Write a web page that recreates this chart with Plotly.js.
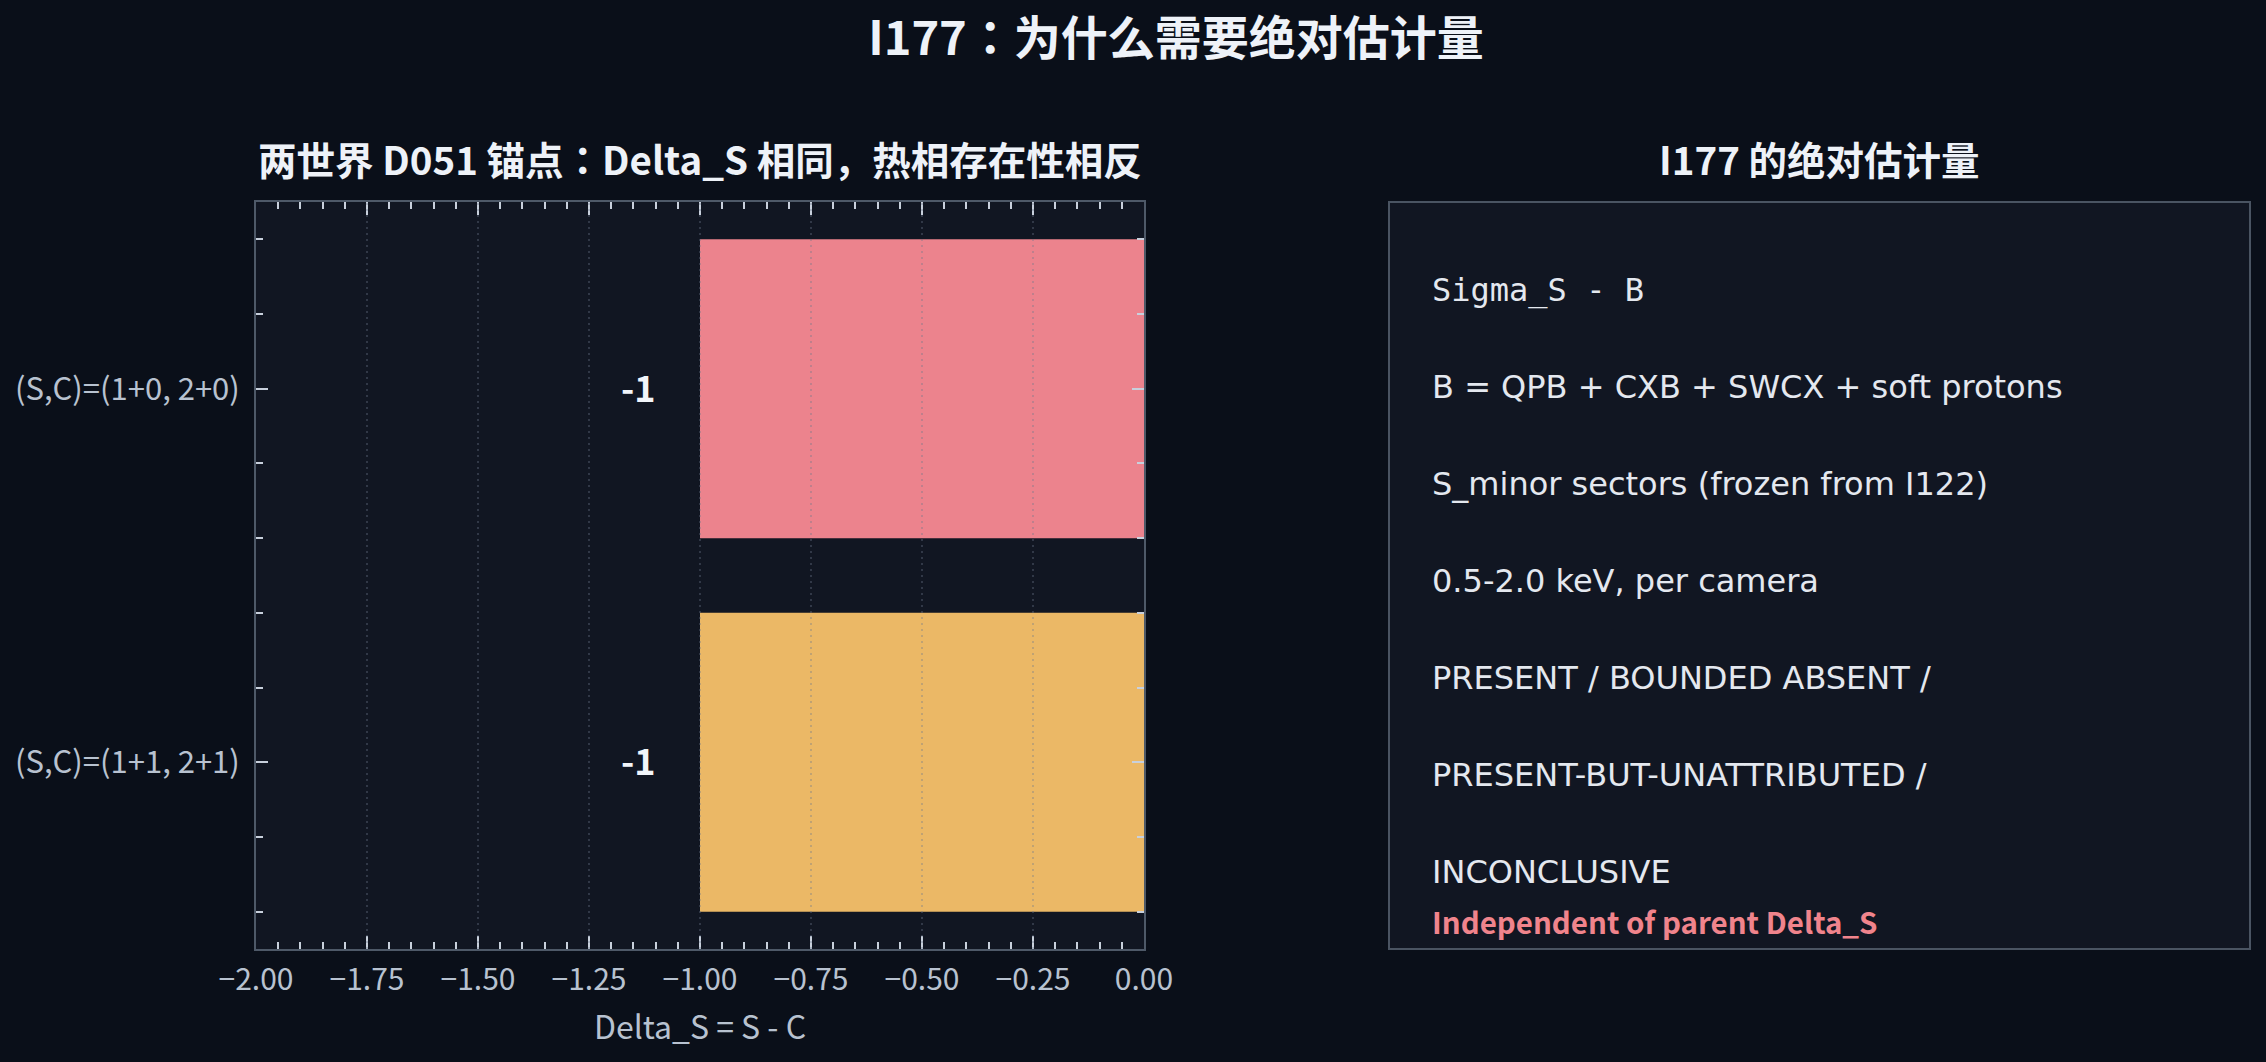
<!DOCTYPE html>
<html>
<head>
<meta charset="utf-8">
<script src="https://cdn.plot.ly/plotly-3.0.1.min.js"></script>
<style>
html,body{margin:0;padding:0;background:#0a0f19;}
#chart{width:2266px;height:1062px;}
</style>
</head>
<body>
<div id="chart"></div>
<script>
// ---- data ----
const categories = ["(S,C)=(1+0, 2+0)", "(S,C)=(1+1, 2+1)"];
const deltaS = [-1, -1];
const barColors = ["#ec838d", "#ebb866"];
const barLabels = ["-1", "-1"];
const mainTitle = "I177：为什么需要绝对估计量";
const leftTitle = "两世界 D051 锚点：Delta_S 相同，热相存在性相反";
const rightTitle = "I177 的绝对估计量";
const xAxisTitle = "Delta_S = S - C";
const monoLine = "Sigma_S - B";
const textLines = [
  "B = QPB + CXB + SWCX + soft protons",
  "S_minor sectors (frozen from I122)",
  "0.5-2.0 keV, per camera",
  "PRESENT / BOUNDED ABSENT /",
  "PRESENT-BUT-UNATTRIBUTED /",
  "INCONCLUSIVE"
];
const noteLine = "Independent of parent Delta_S";
const gridVals = [-1.75, -1.5, -1.25, -1.0, -0.75, -0.5, -0.25];

// ---- layout helpers ----
const W = 2266, H = 1062;
const px = x => x / W;
const py = y => (H - y) / H;
const cjk = '"Noto Sans CJK JP", "Noto Sans CJK SC", "Noto Sans", sans-serif';

const yIdx = categories.map((c, i) => i);

const trace = {
  type: 'bar',
  orientation: 'h',
  x: deltaS,
  y: yIdx,
  width: 0.8,
  marker: {color: barColors, line: {width: 0}},
  hoverinfo: 'skip',
  showlegend: false
};

const annotations = [];
// bar value labels
deltaS.forEach((v, i) => {
  annotations.push({
    x: v, y: yIdx[i], xref: 'x', yref: 'y',
    text: barLabels[i], showarrow: false,
    xanchor: 'right', yanchor: 'middle', xshift: -42, yshift: 3,
    font: {family: cjk, size: 36, color: '#f2f5fa', weight: 700}
  });
});
// subplot titles
annotations.push({
  x: px(700), y: py(158), xref: 'paper', yref: 'paper',
  text: '<b>' + leftTitle + '</b>', showarrow: false,
  xanchor: 'center', yanchor: 'middle',
  font: {family: cjk, size: 38.5, color: '#eef2f8'}
});
annotations.push({
  x: px(1819), y: py(158), xref: 'paper', yref: 'paper',
  text: '<b>' + rightTitle + '</b>', showarrow: false,
  xanchor: 'center', yanchor: 'middle',
  font: {family: cjk, size: 38.5, color: '#eef2f8'}
});
// right panel text
const textX = px(1430);
annotations.push({
  x: textX, y: py(290), xref: 'paper', yref: 'paper',
  text: monoLine, showarrow: false, xanchor: 'left', yanchor: 'middle',
  font: {family: '"DejaVu Sans Mono", monospace', size: 32, color: '#e4e8ef'}
});
const lineYs = [387, 484, 581, 678, 775, 872];
textLines.forEach((t, i) => {
  annotations.push({
    x: textX, y: py(lineYs[i]), xref: 'paper', yref: 'paper',
    text: t, showarrow: false, xanchor: 'left', yanchor: 'middle',
    font: {family: '"DejaVu Sans", sans-serif', size: 32, color: '#e4e8ef'}
  });
});
annotations.push({
  x: textX, y: py(921), xref: 'paper', yref: 'paper',
  text: '<b>' + noteLine + '</b>', showarrow: false, xanchor: 'left', yanchor: 'middle',
  font: {family: cjk, size: 29.5, color: '#f0848c'}
});

const shapes = [];
// right panel box
shapes.push({
  type: 'rect', xref: 'paper', yref: 'paper',
  x0: px(1389), x1: px(2250), y0: py(949), y1: py(202),
  fillcolor: '#111622', line: {color: '#4a5462', width: 2}, layer: 'below'
});
// dotted gridlines above bars
gridVals.forEach(g => {
  shapes.push({
    type: 'line', xref: 'x', yref: 'y domain',
    x0: g, x1: g, y0: 0, y1: 1,
    line: {color: 'rgba(110,120,140,0.35)', width: 2, dash: '2px,4px'},
    layer: 'above'
  });
});

const tickColor = '#c8d0dc';
const layout = {
  width: W, height: H,
  paper_bgcolor: '#0a0f19',
  plot_bgcolor: '#111622',
  margin: {l: 0, r: 0, t: 0, b: 0, pad: 0},
  bargap: 0.2,
  title: {
    text: '<b>' + mainTitle + '</b>',
    x: 1176 / W, xref: 'container', xanchor: 'center',
    y: py(39), yref: 'container', yanchor: 'middle',
    font: {family: cjk, size: 47, color: '#eef2f8'}
  },
  xaxis: {
    domain: [px(256), px(1144)],
    range: [-2, 0],
    dtick: 0.25, tick0: 0,
    tickformat: '.2f',
    ticks: 'inside', ticklen: 13, tickwidth: 2, tickcolor: tickColor,
    minor: {dtick: 0.05, tick0: 0, ticks: 'inside', ticklen: 7, tickwidth: 2, tickcolor: tickColor, showgrid: false},
    showgrid: false, zeroline: false,
    showline: true, linecolor: '#4e5968', linewidth: 2, mirror: 'ticks',
    tickfont: {family: cjk, size: 30, color: '#b8c2d0'},
    ticklabelstandoff: 3,
    title: {text: xAxisTitle, standoff: 19, font: {family: cjk, size: 32, color: '#b8c2d0'}},
    fixedrange: true
  },
  yaxis: {
    domain: [py(949), py(202)],
    range: [1.5, -0.5],
    tickvals: yIdx, ticktext: categories,
    ticks: 'inside', ticklen: 12, tickwidth: 2, tickcolor: tickColor,
    minor: {dtick: 0.2, tick0: 0, ticks: 'inside', ticklen: 7, tickwidth: 2, tickcolor: tickColor, showgrid: false},
    showgrid: false, zeroline: false,
    showline: true, linecolor: '#4e5968', linewidth: 2, mirror: 'ticks',
    tickfont: {family: cjk, size: 31, color: '#b8c2d0'},
    ticklabelstandoff: 8,
    fixedrange: true
  },
  annotations: annotations,
  shapes: shapes
};

Plotly.newPlot('chart', [trace], layout, {displayModeBar: false, staticPlot: true});
</script>
</body>
</html>
